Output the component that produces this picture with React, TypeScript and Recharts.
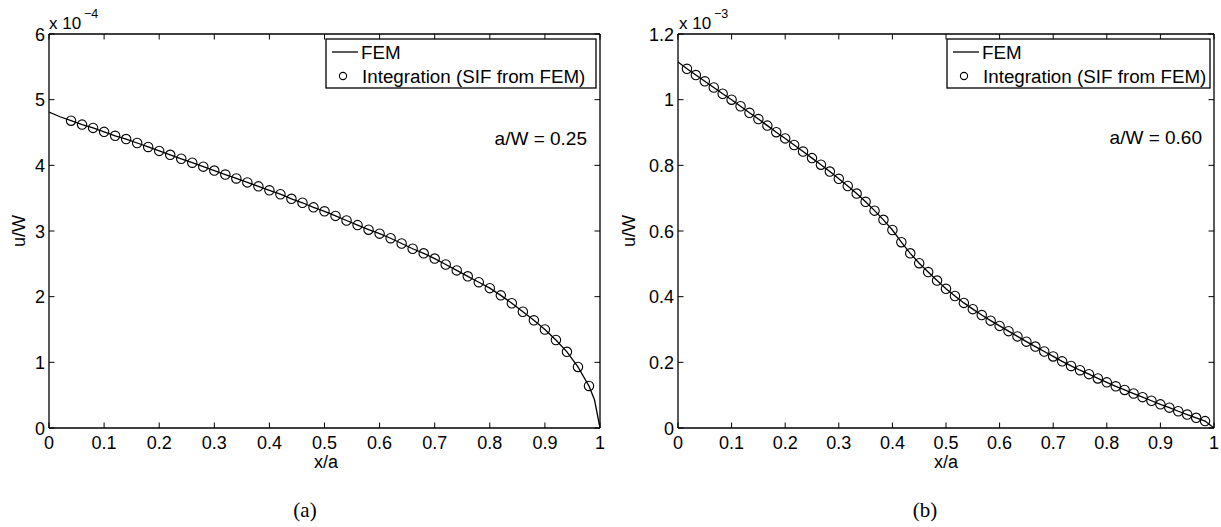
import React from 'react';
import { ComposedChart, Line, Scatter, XAxis, YAxis } from 'recharts';

const FONT = '"Liberation Sans", Arial, Helvetica, sans-serif';

// ---------- ticks ----------
const xTicks = [0, 0.1, 0.2, 0.3, 0.4, 0.5, 0.6, 0.7, 0.8, 0.9, 1];
const xTickLabels = ['0', '0.1', '0.2', '0.3', '0.4', '0.5', '0.6', '0.7', '0.8', '0.9', '1'];
const yTicksA = [0, 1, 2, 3, 4, 5, 6];
const yTickLabelsA = ['0', '1', '2', '3', '4', '5', '6'];
const yTicksB = [0, 0.2, 0.4, 0.6, 0.8, 1, 1.2];
const yTickLabelsB = ['0', '0.2', '0.4', '0.6', '0.8', '1', '1.2'];

// ---------- (a) a/W = 0.25, u/W in units of 1e-4 ----------
const intAx = [0.04, 0.06, 0.08, 0.10, 0.12, 0.14, 0.16, 0.18, 0.20, 0.22, 0.24, 0.26, 0.28, 0.30, 0.32, 0.34,
  0.36, 0.38, 0.40, 0.42, 0.44, 0.46, 0.48, 0.50, 0.52, 0.54, 0.56, 0.58, 0.60, 0.62, 0.64, 0.66, 0.68, 0.70,
  0.72, 0.74, 0.76, 0.78, 0.80, 0.82, 0.84, 0.86, 0.88, 0.90, 0.92, 0.94, 0.96, 0.98];
const intAy = [4.68, 4.62, 4.57, 4.51, 4.45, 4.40, 4.34, 4.28, 4.22, 4.16, 4.10, 4.04, 3.98, 3.92, 3.86, 3.80,
  3.74, 3.68, 3.62, 3.56, 3.49, 3.43, 3.36, 3.30, 3.23, 3.16, 3.09, 3.02, 2.96, 2.89, 2.81, 2.73, 2.66, 2.58,
  2.49, 2.40, 2.31, 2.22, 2.13, 2.02, 1.90, 1.77, 1.64, 1.50, 1.34, 1.16, 0.93, 0.64];
const femAx = [0, 0.02, 0.04, 0.06, 0.08, 0.10, 0.12, 0.14, 0.16, 0.18, 0.20, 0.22, 0.24, 0.26, 0.28, 0.30, 0.32, 0.34,
  0.36, 0.38, 0.40, 0.42, 0.44, 0.46, 0.48, 0.50, 0.52, 0.54, 0.56, 0.58, 0.60, 0.62, 0.64, 0.66, 0.68, 0.70,
  0.72, 0.74, 0.76, 0.78, 0.80, 0.82, 0.84, 0.86, 0.88, 0.90, 0.92, 0.94, 0.96, 0.98, 0.99, 1.0];
const femAy = [4.81, 4.74, 4.68, 4.62, 4.57, 4.51, 4.45, 4.40, 4.34, 4.28, 4.22, 4.16, 4.10, 4.04, 3.98, 3.92, 3.86, 3.80,
  3.74, 3.68, 3.62, 3.56, 3.49, 3.43, 3.36, 3.30, 3.23, 3.16, 3.09, 3.02, 2.96, 2.89, 2.81, 2.73, 2.66, 2.58,
  2.49, 2.40, 2.31, 2.22, 2.13, 2.02, 1.90, 1.77, 1.64, 1.50, 1.34, 1.16, 0.93, 0.64, 0.43, 0];

// ---------- (b) a/W = 0.60, u/W in units of 1e-3 ----------
const intBx = [0.0167, 0.0333, 0.05, 0.0667, 0.0833, 0.1, 0.1167, 0.1333, 0.15, 0.1667, 0.1833, 0.2, 0.2167, 0.2333,
  0.25, 0.2667, 0.2833, 0.3, 0.3167, 0.3333, 0.35, 0.3667, 0.3833, 0.4, 0.4167, 0.4333, 0.45, 0.4667, 0.4833, 0.5,
  0.5167, 0.5333, 0.55, 0.5667, 0.5833, 0.6, 0.6167, 0.6333, 0.65, 0.6667, 0.6833, 0.7, 0.7167, 0.7333, 0.75,
  0.7667, 0.7833, 0.8, 0.8167, 0.8333, 0.85, 0.8667, 0.8833, 0.9, 0.9167, 0.9333, 0.95, 0.9667, 0.9833];
const intBy = [1.094, 1.075, 1.056, 1.037, 1.018, 1.000, 0.980, 0.960, 0.941, 0.921,
  0.901, 0.882, 0.862, 0.842, 0.822, 0.802, 0.781, 0.759, 0.737, 0.714,
  0.689, 0.662, 0.634, 0.603, 0.566, 0.532, 0.502, 0.475, 0.449, 0.424,
  0.402, 0.381, 0.362, 0.344, 0.327, 0.311, 0.295, 0.279, 0.263, 0.248,
  0.233, 0.218, 0.203, 0.189, 0.176, 0.164, 0.151, 0.139, 0.127, 0.116,
  0.105, 0.094, 0.083, 0.072, 0.062, 0.051, 0.041, 0.031, 0.021];
const femBStart = { x: 0, y: 1.115 };
const femBEnd = { x: 1, y: 0 };

const intA = intAx.map((x, i) => ({ x, y: intAy[i] }));
const femA = femAx.map((x, i) => ({ x, y: femAy[i] }));
const intB = intBx.map((x, i) => ({ x, y: intBy[i] }));
const femB = [femBStart, ...intB, femBEnd];

const TICK_LEN = 5.5;
const labelFor = (ticks: number[], labels: string[], v: number) => {
  const i = ticks.findIndex((t) => Math.abs(t - v) < 1e-9);
  return i >= 0 ? labels[i] : String(v);
};

const BottomTick = (props: any) => {
  const { x, y, payload } = props;
  return (
    <g>
      <line x1={x} x2={x} y1={y} y2={y - TICK_LEN} stroke="#000" strokeWidth={1} />
      <text x={x} y={y + 21} textAnchor="middle" fontSize={18} fontFamily={FONT} fill="#000">
        {labelFor(xTicks, xTickLabels, payload.value)}
      </text>
    </g>
  );
};
const TopTick = (props: any) => {
  const { x, y } = props;
  return <line x1={x} x2={x} y1={y} y2={y + TICK_LEN} stroke="#000" strokeWidth={1} />;
};
const makeLeftTick = (ticks: number[], labels: string[]) => (props: any) => {
  const { x, y, payload } = props;
  return (
    <g>
      <line x1={x} x2={x + TICK_LEN} y1={y} y2={y} stroke="#000" strokeWidth={1} />
      <text x={x - 4} y={y + 6.5} textAnchor="end" fontSize={18} fontFamily={FONT} fill="#000">
        {labelFor(ticks, labels, payload.value)}
      </text>
    </g>
  );
};
const RightTick = (props: any) => {
  const { x, y } = props;
  return <line x1={x} x2={x - TICK_LEN} y1={y} y2={y} stroke="#000" strokeWidth={1} />;
};
const LeftTickA = makeLeftTick(yTicksA, yTickLabelsA);
const LeftTickB = makeLeftTick(yTicksB, yTickLabelsB);

const OpenCircle = (props: any) => {
  const { cx, cy } = props;
  return <circle cx={cx} cy={cy} r={4.7} fill="none" stroke="#000" strokeWidth={1.1} />;
};

const axisStyle = { stroke: '#000', strokeWidth: 1.3 };

function Panel(p: {
  width: number; margin: any; yDomain: number[]; yTicks: number[]; leftTick: any;
  fem: any[]; integ: any[];
}) {
  return (
    <ComposedChart width={p.width} height={527} margin={p.margin}>
      <XAxis xAxisId="b" dataKey="x" type="number" domain={[0, 1]} ticks={xTicks} interval={0}
        orientation="bottom" height={1} tickSize={0} tickMargin={0} tickLine={false}
        axisLine={axisStyle} tick={BottomTick} allowDataOverflow />
      <XAxis xAxisId="t" dataKey="x" type="number" domain={[0, 1]} ticks={xTicks} interval={0}
        orientation="top" height={1} tickSize={0} tickMargin={0} tickLine={false}
        axisLine={axisStyle} tick={TopTick} allowDataOverflow />
      <YAxis yAxisId="l" dataKey="y" type="number" domain={p.yDomain} ticks={p.yTicks} interval={0}
        orientation="left" width={1} tickSize={0} tickMargin={0} tickLine={false}
        axisLine={axisStyle} tick={p.leftTick} allowDataOverflow />
      <YAxis yAxisId="r" dataKey="y" type="number" domain={p.yDomain} ticks={p.yTicks} interval={0}
        orientation="right" width={1} tickSize={0} tickMargin={0} tickLine={false}
        axisLine={axisStyle} tick={RightTick} allowDataOverflow />
      <Line xAxisId="b" yAxisId="l" data={p.fem} dataKey="y" type="linear" stroke="#000"
        strokeWidth={1.3} dot={false} activeDot={false} isAnimationActive={false} />
      <Scatter xAxisId="b" yAxisId="l" data={p.integ} dataKey="y" shape={OpenCircle}
        isAnimationActive={false} />
    </ComposedChart>
  );
}

function LegendBox({ x, w }: { x: number; w: number }) {
  return (
    <g fontFamily={FONT} fontSize={18.8} fill="#000">
      <rect x={x} y={39} width={w} height={49} fill="#fff" stroke="#000" strokeWidth={1.3} />
      <line x1={x + 6} x2={x + 32} y1={52} y2={52} stroke="#000" strokeWidth={1.3} />
      <text x={x + 35} y={59}>FEM</text>
      <circle cx={x + 17} cy={76} r={3.6} fill="none" stroke="#000" strokeWidth={1.1} />
      <text x={x + 36} y={83}>Integration (SIF from FEM)</text>
    </g>
  );
}

export default function App() {
  return (
    <div style={{ position: 'absolute', left: 0, top: 0, width: 1221, height: 527, background: '#fff', overflow: 'hidden' }}>
      <div style={{ position: 'absolute', left: 0, top: 0 }}>
        <Panel width={620} margin={{ top: 33, right: 19, bottom: 98, left: 48 }} yDomain={[0, 6]}
          yTicks={yTicksA} leftTick={LeftTickA} fem={femA} integ={intA} />
      </div>
      <div style={{ position: 'absolute', left: 620, top: 0 }}>
        <Panel width={601} margin={{ top: 33, right: 6, bottom: 98, left: 57 }} yDomain={[0, 1.2]}
          yTicks={yTicksB} leftTick={LeftTickB} fem={femB} integ={intB} />
      </div>
      <svg width={1221} height={527} style={{ position: 'absolute', left: 0, top: 0, pointerEvents: 'none' }}>
        {/* exponent labels */}
        <text x={49} y={29} fontFamily={FONT} fontSize={17} fill="#000">x 10</text>
        <text x={84} y={18} fontFamily={FONT} fontSize={12.5} fill="#000">−4</text>
        <text x={679} y={29} fontFamily={FONT} fontSize={17} fill="#000">x 10</text>
        <text x={714} y={18} fontFamily={FONT} fontSize={12.5} fill="#000">−3</text>
        {/* axis titles */}
        <text transform="translate(24.5,231) rotate(-90)" textAnchor="middle" fontFamily={FONT} fontSize={18} fill="#000">u/W</text>
        <text transform="translate(635,231) rotate(-90)" textAnchor="middle" fontFamily={FONT} fontSize={18} fill="#000">u/W</text>
        <text x={326} y={468} textAnchor="middle" fontFamily={FONT} fontSize={18} fill="#000">x/a</text>
        <text x={946} y={468} textAnchor="middle" fontFamily={FONT} fontSize={18} fill="#000">x/a</text>
        {/* annotations */}
        <text x={587} y={145} textAnchor="end" fontFamily={FONT} fontSize={19} fill="#000">a/W = 0.25</text>
        <text x={1202} y={144} textAnchor="end" fontFamily={FONT} fontSize={19} fill="#000">a/W = 0.60</text>
        {/* legends */}
        <LegendBox x={326} w={270} />
        <LegendBox x={947} w={263} />
        {/* captions */}
        <text x={305} y={517} textAnchor="middle" fontFamily='"Liberation Serif", "Times New Roman", serif' fontSize={21} fill="#000">(a)</text>
        <text x={925} y={517} textAnchor="middle" fontFamily='"Liberation Serif", "Times New Roman", serif' fontSize={21} fill="#000">(b)</text>
      </svg>
    </div>
  );
}
